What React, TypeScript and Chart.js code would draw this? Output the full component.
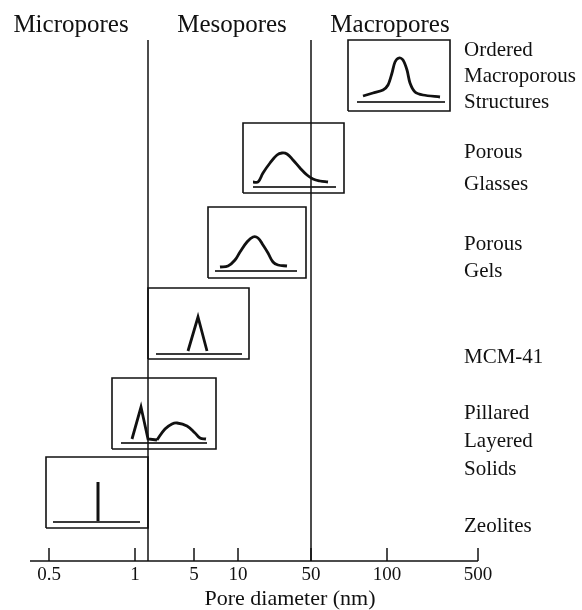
import { useEffect, useRef } from "react";
import { Chart, registerables } from "chart.js";

Chart.register(...registerables);

// ---- schematic pore-diameter axis (hand-spaced, not logarithmic) ----
const TICK_LABELS = ["0.5", "1", "5", "10", "50", "100", "500"];
const TICK_POS = [19, 105, 164, 208, 281, 357, 448];
const X_MAX = 448;
const Y_MAX = 521;
const AXIS_TITLE = "Pore diameter (nm)";

// micro / meso / macro boundaries and their headings
const REGION_BOUNDS = [118, 281];
const REGION_NAMES = ["Micropores", "Mesopores", "Macropores"];
const REGION_CENTERS = [41, 202, 360];

// one inset per material: frame, baseline and distribution curve(s)
const MATERIAL_LABELS = [
  ["Zeolites"],
  ["Pillared", "Layered", "Solids"],
  ["MCM-41"],
  ["Porous", "Gels"],
  ["Porous", "Glasses"],
  ["Ordered", "Macroporous", "Structures"],
];
const LABEL_BASE_Y = [29, 142, 198, 311, 403, 505];
const LABEL_LINE_GAP = [0, 28, 0, 27, 32, 26];

const BOX_X0 = [16, 82, 118, 178, 213, 318];
const BOX_X1 = [118, 186, 219, 276, 314, 420];
const BOX_Y0 = [33, 112, 202, 283, 368, 450];
const BOX_Y1 = [104, 183, 273, 354, 438, 521];

const BASE_X0 = [23, 91, 126, 185, 223, 327];
const BASE_X1 = [110, 177, 212, 267, 306, 415];
const BASE_Y = [39, 118, 207, 290, 374, 459];

// distribution shapes, [diameter position, relative frequency]
const ZEOLITE_PEAK = [[68, 39], [68, 79]];
const PILLARED_PEAK = [[102, 122], [111, 154], [118, 122], [127, 121]];
const PILLARED_HUMP = [[127, 121], [135, 132], [142, 137], [147, 138], [157, 135], [165, 128], [170, 123], [176, 122]];
const MCM41_PEAK = [[158, 210], [168, 244], [177, 210]];
const GEL_CURVE = [[190, 294], [198, 295], [205, 301], [210, 309], [217, 319], [223, 324], [228, 323], [233, 316], [238, 308], [243, 299], [248, 296], [257, 295]];
const GLASS_CURVE = [[223, 379], [228, 379], [233, 388], [240, 398], [247, 406], [252, 408], [257, 407], [263, 401], [270, 393], [277, 386], [283, 382], [290, 380], [298, 379]];
const MACRO_CURVE = [[333, 465], [343, 468], [353, 471], [358, 476], [362, 488], [365, 499], [369, 503], [373, 501], [377, 491], [380, 478], [385, 469], [393, 466], [410, 464]];

const INK = "#111111";
const SERIF = "'Liberation Serif', 'Times New Roman', serif";

const pts = (arr: number[][]) => arr.map(([x, y]) => ({ x, y }));

function buildDatasets() {
  const sets: any[] = [];
  const line = (data: any[], width: number, color: string, tension: number) => ({
    data,
    showLine: true,
    borderColor: color,
    borderWidth: width,
    pointRadius: 0,
    tension,
    clip: false,
    fill: false,
  });
  BOX_X0.forEach((_, i) => {
    sets.push(
      line(
        [
          { x: BOX_X0[i], y: BOX_Y0[i] },
          { x: BOX_X1[i], y: BOX_Y0[i] },
          { x: BOX_X1[i], y: BOX_Y1[i] },
          { x: BOX_X0[i], y: BOX_Y1[i] },
          { x: BOX_X0[i], y: BOX_Y0[i] },
        ],
        1.6,
        INK,
        0
      )
    );
    sets.push(line([{ x: BASE_X0[i], y: BASE_Y[i] }, { x: BASE_X1[i], y: BASE_Y[i] }], 1.8, "#3a3a3a", 0));
  });
  sets.push(line(pts(ZEOLITE_PEAK), 3, INK, 0));
  sets.push(line(pts(PILLARED_PEAK), 2.8, INK, 0));
  sets.push(line(pts(PILLARED_HUMP), 2.8, INK, 0.4));
  sets.push(line(pts(MCM41_PEAK), 2.8, INK, 0));
  sets.push(line(pts(GEL_CURVE), 2.8, INK, 0.4));
  sets.push(line(pts(GLASS_CURVE), 2.8, INK, 0.4));
  sets.push(line(pts(MACRO_CURVE), 2.8, INK, 0.3));
  return sets;
}

const schematicDecor = {
  id: "schematicDecor",
  afterDatasetsDraw(chart: any) {
    const { ctx } = chart;
    const xs = chart.scales.x;
    const ys = chart.scales.y;
    const px = (v: number) => xs.getPixelForValue(v);
    const py = (v: number) => ys.getPixelForValue(v);
    const seg = (x1: number, y1: number, x2: number, y2: number) => {
      ctx.beginPath();
      ctx.moveTo(x1, y1);
      ctx.lineTo(x2, y2);
      ctx.stroke();
    };
    ctx.save();
    ctx.strokeStyle = INK;
    ctx.fillStyle = INK;
    ctx.lineWidth = 1.5;

    const axisY = py(0);
    seg(px(0), axisY, px(X_MAX), axisY);
    TICK_POS.forEach((t) => seg(px(t), axisY, px(t), axisY - 13));
    REGION_BOUNDS.forEach((b) => seg(px(b), py(Y_MAX), px(b), axisY));

    ctx.textBaseline = "alphabetic";
    ctx.textAlign = "center";
    ctx.font = `19px ${SERIF}`;
    TICK_LABELS.forEach((lab, i) => ctx.fillText(lab, px(TICK_POS[i]), axisY + 19));
    ctx.font = `22px ${SERIF}`;
    ctx.fillText(AXIS_TITLE, px(260), axisY + 44);

    ctx.font = `25px ${SERIF}`;
    REGION_NAMES.forEach((name, i) => ctx.fillText(name, px(REGION_CENTERS[i]), py(Y_MAX) - 8));

    ctx.textAlign = "left";
    ctx.font = `21px ${SERIF}`;
    MATERIAL_LABELS.forEach((lines, i) => {
      lines.forEach((txt, j) => {
        ctx.fillText(txt, px(434), py(LABEL_BASE_Y[i]) + j * LABEL_LINE_GAP[i]);
      });
    });
    ctx.restore();
  },
};

export default function App() {
  const ref = useRef<HTMLCanvasElement | null>(null);
  useEffect(() => {
    if (!ref.current) return;
    const chart = new Chart(ref.current, {
      type: "scatter",
      data: { datasets: buildDatasets() },
      options: {
        animation: false,
        responsive: false,
        devicePixelRatio: 1,
        layout: { padding: { left: 30, right: 104, top: 40, bottom: 49 } },
        plugins: { legend: { display: false }, tooltip: { enabled: false } },
        scales: {
          x: { type: "linear", min: 0, max: X_MAX, display: false },
          y: { type: "linear", min: 0, max: Y_MAX, display: false },
        },
      },
      plugins: [schematicDecor],
    });
    return () => chart.destroy();
  }, []);
  return (
    <div style={{ position: "absolute", left: 0, top: 0, width: 582, height: 610, background: "#fff" }}>
      <canvas ref={ref} width={582} height={610} style={{ display: "block" }} />
    </div>
  );
}
